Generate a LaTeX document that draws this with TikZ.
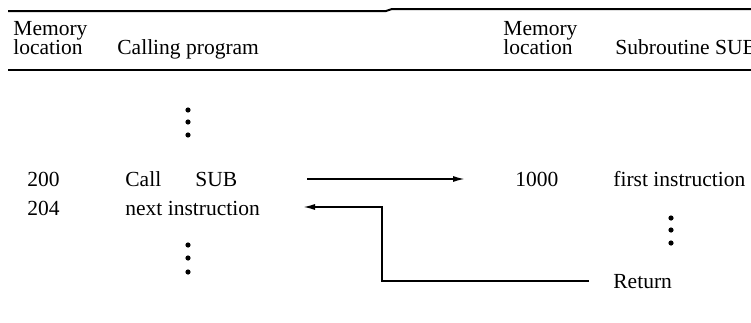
\documentclass[tikz,border=0pt]{standalone}
\usepackage{fontspec}
\setmainfont{Liberation Serif}
\usetikzlibrary{arrows.meta}

\tikzset{
  txt/.style={anchor=base west,inner sep=0pt,font=\fontsize{10.75}{10}\selectfont},
  rule/.style={line width=1pt},
  link/.style={line width=0.8pt,-{Latex[length=6pt,width=3pt]}},
}

\begin{document}
\begin{tikzpicture}[x=0.5pt,y=-0.5pt]
\useasboundingbox (0,0) rectangle (751,322);
% table rules
\draw[rule] (8,11) -- (386,11) -- (392,9) -- (751,9);
\draw[rule] (8,70) -- (751,70);
% headings
\node[txt] (memA) at (13,35) {Memory};
\node[txt] (locA) at (13,54) {location};
\node[txt] (calling) at (117,54) {Calling program};
\node[txt] (memB) at (503,35) {Memory};
\node[txt] (locB) at (503,54) {location};
\node[txt] (subr) at (615,54) {Subroutine SUB};
% rows
\foreach \n/\x/\y/\t in {a200/27/186/200, a204/27/215/204,
    call/125/186/Call, sub/195/186/SUB, next/125/215/next instruction,
    a1000/515/186/1000, first/613/186/first instruction, ret/613/288/Return} {
  \node[txt] (\n) at (\x,\y) {\t};
}
% vertical dots
\foreach \x/\y in {188/110, 188/122, 188/135, 188/245, 188/258, 188/272,
    671/218, 671/230, 671/243} {
  \fill (\x,\y) circle (1.3pt);
}
% call and return
\coordinate (callout) at (307,179);
\coordinate (callin) at (465,179);
\coordinate (retout) at (589,281);
\coordinate (retin) at (303,207);
\draw[link] (callout) -- (callin);
\draw[link] (retout) -- (382,281) -- (382,207) -- (retin);
\end{tikzpicture}
\end{document}
